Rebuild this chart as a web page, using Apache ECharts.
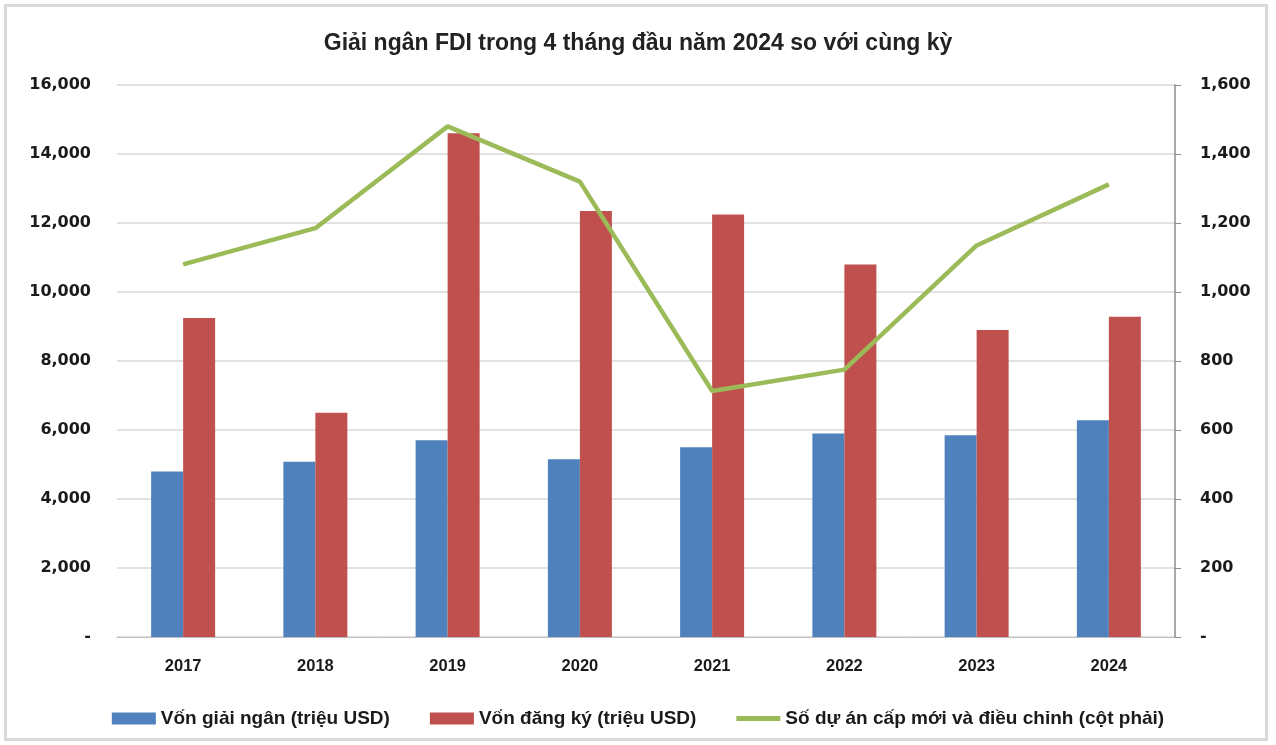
<!DOCTYPE html>
<html>
<head>
<meta charset="utf-8">
<script src="https://cdn.jsdelivr.net/npm/echarts@6/dist/echarts.min.js"></script>
<style>
  html, body { margin: 0; padding: 0; background: #fff; }
  #frame { position: absolute; left: 4px; top: 4px; width: 1264px; height: 737px; border: 3px solid #d9d9d9; box-sizing: border-box; }
  #chart { width: 1276px; height: 745px; }
</style>
</head>
<body>
<div id="frame"></div>
<div id="chart"></div>
<script>
var years = ['2017', '2018', '2019', '2020', '2021', '2022', '2023', '2024'];
var vonGiaiNgan = [4800, 5080, 5700, 5150, 5500, 5900, 5850, 6280];
var vonDangKy = [9250, 6500, 14600, 12350, 12250, 10800, 8900, 9280];
var soDuAn = [1080, 1185, 1480, 1320, 713, 775, 1135, 1312];
var leftTicks = { min: 0, max: 16000, interval: 2000 };
var rightTicks = { min: 0, max: 1600, interval: 200 };

var chart = echarts.init(document.getElementById('chart'));
var fmt = function (v) { return v === 0 ? '-' : v.toLocaleString('en-US'); };
var yFont = { color: '#1a1a1a', fontSize: 16, fontWeight: 'bold', fontFamily: 'DejaVu Sans' };
var xFont = { color: '#1a1a1a', fontSize: 16.5, fontWeight: 'bold', fontFamily: 'Liberation Sans' };

chart.setOption({
  animation: false,
  title: {
    text: 'Giải ngân FDI trong 4 tháng đầu năm 2024 so với cùng kỳ',
    left: 'center', top: 27,
    textStyle: { fontSize: 23, fontWeight: 'bold', color: '#222', fontFamily: 'Liberation Sans' }
  },
  grid: { left: 117, right: 101, top: 85, bottom: 108 },
  legend: {
    top: 704, left: 'center',
    itemWidth: 44, itemHeight: 12, itemGap: 40,
    textStyle: { fontSize: 19, fontWeight: 'bold', color: '#1a1a1a', fontFamily: 'Liberation Sans' },
    data: [
      { name: 'Vốn giải ngân (triệu USD)', icon: 'rect' },
      { name: 'Vốn đăng ký (triệu USD)', icon: 'rect' },
      { name: 'Số dự án cấp mới và điều chỉnh (cột phải)', icon: 'path://M0,0 L44,0 L44,5 L0,5 Z' }
    ]
  },
  xAxis: {
    type: 'category', data: years,
    axisLine: { lineStyle: { color: '#bfbfbf' } },
    axisTick: { show: false },
    axisLabel: Object.assign({ margin: 21 }, xFont)
  },
  yAxis: [
    {
      type: 'value', min: leftTicks.min, max: leftTicks.max, interval: leftTicks.interval,
      axisLine: { show: false }, axisTick: { show: false },
      splitLine: { lineStyle: { color: '#d9d9d9', width: 1.5 } },
      axisLabel: Object.assign({ margin: 26, formatter: fmt }, yFont)
    },
    {
      type: 'value', min: rightTicks.min, max: rightTicks.max, interval: rightTicks.interval,
      axisLine: { show: true, lineStyle: { color: '#8c8c8c', width: 1.5 } },
      axisTick: { show: true, length: 6, lineStyle: { color: '#8c8c8c' } },
      splitLine: { show: false },
      axisLabel: Object.assign({ margin: 25, formatter: fmt }, yFont)
    }
  ],
  series: [
    {
      name: 'Vốn giải ngân (triệu USD)', type: 'bar', data: vonGiaiNgan,
      barWidth: 32, barGap: '0%',
      itemStyle: { color: '#4f81bd' }
    },
    {
      name: 'Vốn đăng ký (triệu USD)', type: 'bar', data: vonDangKy,
      barWidth: 32, barGap: '0%',
      itemStyle: { color: '#c0504d' }
    },
    {
      name: 'Số dự án cấp mới và điều chỉnh (cột phải)', type: 'line', yAxisIndex: 1,
      data: soDuAn, symbol: 'none',
      lineStyle: { color: '#9bbb59', width: 4.5 },
      itemStyle: { color: '#9bbb59' }
    }
  ]
});
</script>
</body>
</html>
